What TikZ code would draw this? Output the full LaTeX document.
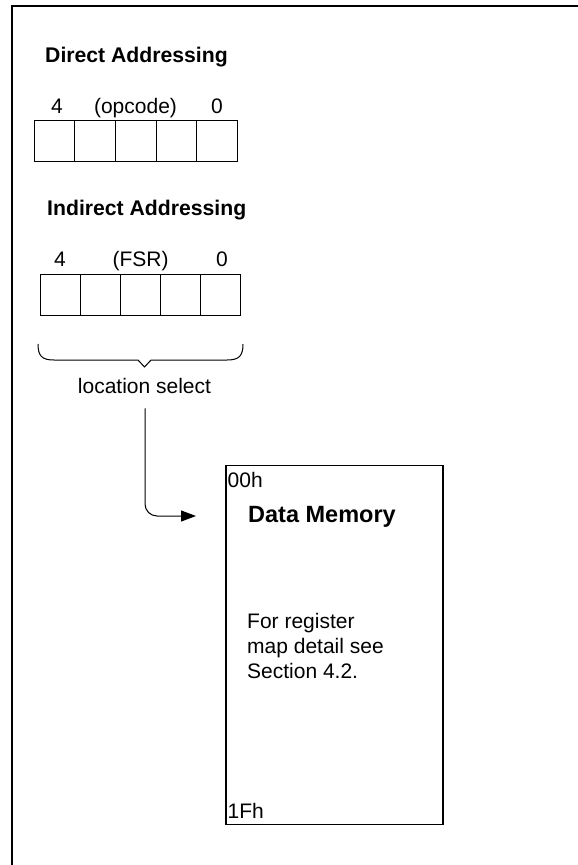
\documentclass[tikz,border=0pt]{standalone}
\usepackage{fontspec}
\setmainfont{Liberation Sans}
\usetikzlibrary{arrows.meta}
\begin{document}
\begin{tikzpicture}[x=1pt,y=-1pt,
  txt/.style={inner sep=0pt,font=\fontsize{21}{24}\selectfont},
  title/.style={inner sep=0pt,font=\fontsize{21.2}{24}\selectfont\bfseries},
  cell/.style={draw,line width=1pt,minimum width=40pt,minimum height=41pt,inner sep=0pt,outer sep=0pt},
  membox/.style={draw,line width=1.2pt,inner sep=0pt},
  frame/.style={line width=2.5pt},
  link/.style={line width=1pt,-{Triangle[length=15pt,width=11pt]}}]
\useasboundingbox (0,0) rectangle (578,865);
% outer frame (top and left edges)
\draw[frame] (578,6) -- (12,6) -- (12,865);

% direct addressing register
\node[title,anchor=base west] (dtitle) at (45,62) {Direct Addressing};
\foreach \i in {0,...,4}{
  \node[cell,minimum width=40.6pt,anchor=north west] (d\i) at ({34.3+40.6*\i},120.7) {};
}
\node[txt,anchor=base] (dhi) at (57,113) {4};
\node[txt,anchor=base] (dop) at (135.5,113) {(opcode)};
\node[txt,anchor=base] (dlo) at (217,113) {0};

% indirect addressing register
\node[title,anchor=base west] (ititle) at (47,215) {Indirect Addressing};
\foreach \i in {0,...,4}{
  \node[cell,anchor=north west] (f\i) at ({40+40*\i},274) {};
}
\node[txt,anchor=base] (fhi) at (60,266) {4};
\node[txt,anchor=base] (fsr) at (140.5,266) {(FSR)};
\node[txt,anchor=base] (flo) at (222,266) {0};

% brace under the FSR bits
\draw[line width=1pt,line join=round]
  (38,344) .. controls (38,356) and (42,360) .. (54,360) -- (138,360)
  -- (144.5,367) -- (151,360) -- (227,360)
  .. controls (239,360) and (243,356) .. (243,344);
\node[txt,anchor=base] (sel) at (144.5,393) {location select};

% data memory block
\node[membox,minimum width=217pt,minimum height=359pt,anchor=north west] (mem) at (225.3,465) {};
\node[txt,anchor=base west] (top) at (227.5,487) {00h};
\node[inner sep=0pt,font=\fontsize{23.5}{26}\selectfont\bfseries,anchor=base west] (memname) at (248,522) {Data Memory};
\node[txt,anchor=base west] (n1) at (247,628) {For register};
\node[txt,anchor=base west] (n2) at (247,653) {map detail see};
\node[txt,anchor=base west] (n3) at (247,678) {Section 4.2.};
\node[txt,anchor=base west] (bot) at (227.5,818) {1Fh};

% select path into memory
\coordinate (tip) at (196,516);
\draw[link,rounded corners=12pt] (sel.south -| 145,0) ++(0,15) -- (145,516) -- (tip);
\end{tikzpicture}
\end{document}
